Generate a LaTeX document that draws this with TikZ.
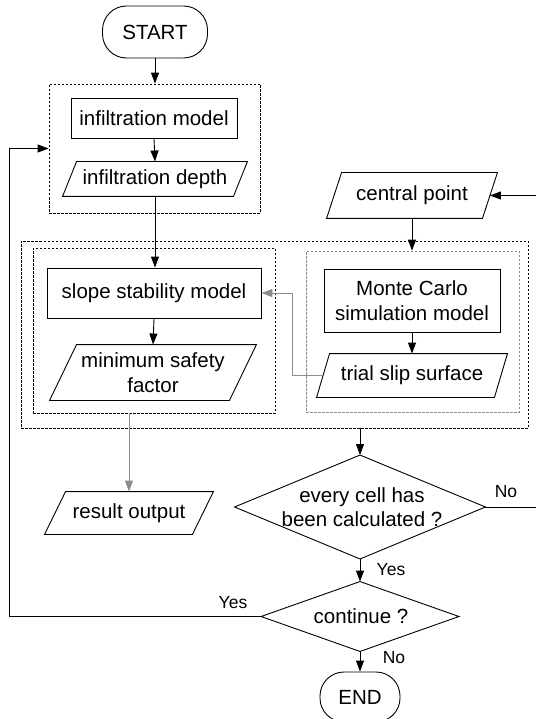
\documentclass[tikz,border=0pt]{standalone}
\usepackage{fontspec}
\setmainfont{Liberation Sans}
\usetikzlibrary{arrows.meta}
\definecolor{lg}{gray}{0.55}
\begin{document}
\begin{tikzpicture}[x=1pt,y=-1pt,
  font=\fontsize{20.5}{24.5}\selectfont, line width=0.9pt,
  proc/.style n args={2}{draw, rectangle, inner sep=0pt, minimum width=#1pt, minimum height=#2pt, align=center},
  ghost/.style n args={2}{rectangle, inner sep=0pt, minimum width=#1pt, minimum height=#2pt, align=center},
  term/.style n args={2}{draw, rectangle, rounded corners=24pt, inner sep=0pt, minimum width=#1pt, minimum height=#2pt},
  grp/.style n args={2}{draw, rectangle, dash pattern=on 2.5pt off 1.5pt, line width=0.8pt, inner sep=0pt, minimum width=#1pt, minimum height=#2pt},
  arr/.style={-{Triangle[length=11pt,width=8pt]}},
  lab/.style={font=\fontsize{17.5}{20}\selectfont, inner sep=0pt}
]
\useasboundingbox (0,0) rectangle (536,719);

% terminals
\node[term={105}{52}] (start) at (155,32) {START};
\node[term={80}{50}] (end) at (360,697) {END};

% group boxes
\node[grp={211}{129}] (box1) at (154.5,148.5) {};
\node[grp={507}{187}] (outer) at (274.5,334.5) {};
\node[grp={242}{165}] (innerL) at (154,330.5) {};
\node[grp={213}{161}, draw=lg] (innerR) at (412.5,331.5) {};

% processes
\node[proc={166}{40}] (im) at (154,118) {infiltration model};
\node[proc={214}{50}] (ssm) at (154,293) {slope stability model};
\node[proc={176}{63}] (mc) at (412,300.5) {Monte Carlo\\simulation model};

% input/output (parallelograms)
\node[ghost={184}{34}] (idp) at (155,179) {infiltration depth};
\node[ghost={170}{45}] (cp) at (412,195.5) {central point};
\node[ghost={206}{55}] (msf) at (153,372.5) {minimum safety\\factor};
\node[ghost={190}{43}] (tss) at (412,375.5) {trial slip surface};
\node[ghost={168}{42}] (ro) at (129,513) {result output};

\draw (idp.south west) -- ([xshift=14pt]idp.north west) -- (idp.north east) -- ([xshift=-14pt]idp.south east) -- cycle;
\draw (cp.south west) -- ([xshift=15pt]cp.north west) -- (cp.north east) -- ([xshift=-15pt]cp.south east) -- cycle;
\draw (msf.south west) -- ([xshift=27pt]msf.north west) -- (msf.north east) -- ([xshift=-27pt]msf.south east) -- cycle;
\draw (tss.south west) -- ([xshift=13pt]tss.north west) -- (tss.north east) -- ([xshift=-13pt]tss.south east) -- cycle;
\draw (ro.south west) -- ([xshift=21pt]ro.north west) -- (ro.north east) -- ([xshift=-21pt]ro.south east) -- cycle;

% decisions
\node[ghost={250}{103}] (d1) at (360,507) {};
\node[align=center, inner sep=0pt] at (362,507) (d1t) {every cell has\\been calculated ?};
\node[ghost={197}{69}] (d2) at (360,616.5) {};
\node[inner sep=0pt] at (361,616.5) (d2t) {continue ?};
\draw (d1.north) -- (d1.east) -- (d1.south) -- (d1.west) -- cycle;
\draw (d2.north) -- (d2.east) -- (d2.south) -- (d2.west) -- cycle;

% free ends at the right edge
\coordinate (noend) at (536,507);
\coordinate (cpin) at (536,195.5);

% labels
\node[lab] (lno1) at (506,492) {No};
\node[lab] (lyes1) at (391,570) {Yes};
\node[lab] (lyes2) at (233,603) {Yes};
\node[lab] (lno2) at (394,658) {No};

% connectors
\draw[arr] (start.south) -- (start.south |- box1.north);
\draw[arr] (im.south) -- (idp.north);
\draw[arr] (idp.south) -- (idp.south |- ssm.north);
\draw[arr] (ssm.south) -- (msf.north);
\draw[arr] (cpin) -- ([xshift=-7.5pt]cp.east);
\draw[arr] (cp.south) -- (cp.south |- innerR.north);
\draw[arr] (mc.south) -- (mc.south |- tss.north);
\draw[arr, draw=lg] ([xshift=6.5pt]tss.west) -- ++(-30.5,0) |- (ssm.east);
\draw[arr, draw=lg] (ro.north |- innerL.south) -- (ro.north);
\draw[arr] (d1.north |- outer.south) -- (d1.north);
\draw (d1.east) -- (noend);
\draw[arr] (d1.south) -- (d2.north);
\draw[arr] (d2.south) -- (end.north);
\draw[arr] (d2.west) -- ++(-251.5,0) |- (box1.west);
\end{tikzpicture}
\end{document}
